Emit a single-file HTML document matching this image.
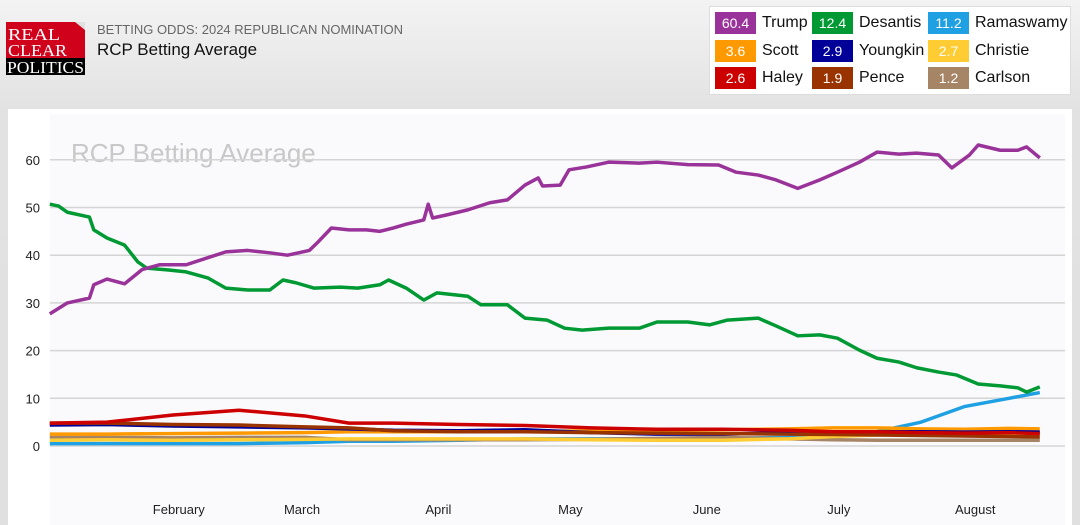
<!DOCTYPE html>
<html><head><meta charset="utf-8">
<style>
body{margin:0;width:1080px;height:525px;overflow:hidden;background:linear-gradient(#f3f3f3,#e2e2e2 110px,#e0e0e0);font-family:"Liberation Sans",sans-serif;position:relative}
.logo{position:absolute;left:6px;top:22px;width:79px;height:53px}
.sub{position:absolute;left:97px;top:22px;font-size:13px;color:#666}
.ttl{position:absolute;left:97px;top:40px;font-size:17px;color:#111}
.legend{position:absolute;left:709px;top:6px;width:362px;height:89px;background:#fff;border:1px solid #ddd;box-sizing:border-box}
.li{position:absolute;height:22px;font-size:16px;color:#111;line-height:22px}
.li span.b{display:inline-block;width:41px;height:22px;color:#fff;text-align:center;font-size:14px;margin-right:6px;vertical-align:top}
.panel{position:absolute;left:8px;top:109px;width:1064px;height:416px;background:#fff}
</style></head><body>
<svg class="logo" viewBox="0 0 79 53">
<rect x="0" y="0" width="79" height="53" fill="#d0021b"/><polygon points="69,0 79,0 79,8" fill="#e0e0e0"/><rect x="0" y="36" width="79" height="17" fill="#000"/>
<text x="2" y="18" font-family="Liberation Serif" font-size="17" fill="#fff" textLength="52" lengthAdjust="spacingAndGlyphs">REAL</text>
<text x="2" y="34" font-family="Liberation Serif" font-size="17" fill="#fff" textLength="59" lengthAdjust="spacingAndGlyphs">CLEAR</text>
<text x="1" y="51" font-family="Liberation Serif" font-size="17" fill="#fff" textLength="77" lengthAdjust="spacingAndGlyphs">POLITICS</text></svg>
<div class="sub">BETTING ODDS: 2024 REPUBLICAN NOMINATION</div>
<div class="ttl">RCP Betting Average</div>
<div class="legend">
<div class="li" style="left:5px;top:5px"><span class="b" style="background:#993399">60.4</span>Trump</div>
<div class="li" style="left:102px;top:5px"><span class="b" style="background:#009933">12.4</span>Desantis</div>
<div class="li" style="left:218px;top:5px"><span class="b" style="background:#1fa0e3">11.2</span>Ramaswamy</div>
<div class="li" style="left:5px;top:33px"><span class="b" style="background:#ff9900">3.6</span>Scott</div>
<div class="li" style="left:102px;top:33px"><span class="b" style="background:#000099">2.9</span>Youngkin</div>
<div class="li" style="left:218px;top:33px"><span class="b" style="background:#ffcc33">2.7</span>Christie</div>
<div class="li" style="left:5px;top:60px"><span class="b" style="background:#cc0000">2.6</span>Haley</div>
<div class="li" style="left:102px;top:60px"><span class="b" style="background:#993300">1.9</span>Pence</div>
<div class="li" style="left:218px;top:60px"><span class="b" style="background:#a68566">1.2</span>Carlson</div>
</div>
<div class="panel"></div>
<svg id="chart" width="1080" height="525" style="position:absolute;left:0;top:0"></svg>
<script>
const yTicks=[0,10,20,30,40,50,60];
const monthLabels=["February","March","April","May","June","July","August"];
const monthDays=[32,60,91,121,152,182,213];
const trumpDays=[2,6,11,12,15,19,23,27,33,38,42,47,52,56,61,63,66,70,74,77,80,83,87,88,89,92,97,102,106,110,113,114,118,120,124,129,136,140,147,154,158,163,167,172,177,181,186,190,195,199,204,207,211,213,218,222,224,227];
const trumpVals=[27.7,30,31,33.8,35,34,37,38,38,39.5,40.7,41,40.5,40,41,42.8,45.7,45.3,45.3,45,45.7,46.5,47.4,50.7,47.8,48.4,49.5,51,51.6,54.7,56.2,54.5,54.7,57.9,58.5,59.5,59.3,59.5,59,58.9,57.4,56.8,55.8,54,55.8,57.4,59.5,61.6,61.2,61.4,61,58.3,61,63.1,62,62,62.7,60.4];
const desantisDays=[2,4,6,11,12,15,19,22,24,29,33,38,42,47,52,55,58,62,68,72,77,79,83,87,90,97,100,106,110,115,119,123,129,136,140,147,152,156,163,167,172,177,181,186,190,195,199,204,208,213,218,222,224,227];
const desantisVals=[50.7,50.3,49,48,45.3,43.6,42.1,38.6,37.3,36.9,36.5,35.2,33.1,32.7,32.7,34.8,34.2,33.1,33.3,33.1,33.8,34.8,33.1,30.6,32.1,31.4,29.6,29.6,26.8,26.4,24.7,24.3,24.7,24.7,26,26,25.4,26.4,26.8,25.2,23.1,23.3,22.6,20.1,18.4,17.6,16.4,15.5,14.9,13,12.6,12.2,11.3,12.4];
const minorDays=[2,15,30,45,60,70,80,95,110,125,140,155,170,180,190,200,210,220,227];
const ramaswamyVals=[0.5,0.5,0.5,0.5,0.7,1,1,1.2,1.5,1.5,1.5,1.6,1.8,2.2,3,5,8.3,10,11.2];
const carlsonVals=[1.8,1.8,1.7,1.8,1.8,1.3,1.3,1.3,1.3,1.4,1.6,1.8,1.5,1.3,1.2,1.2,1.2,1.2,1.2];
const christieVals=[1.2,1.3,1.2,1.3,1.4,1.5,1.5,1.5,1.5,1.3,1.2,1.2,1.5,2,2.3,2.5,2.6,2.6,2.7];
const scottVals=[2.5,2.5,2.6,2.7,2.8,3,3,3,3,3.2,3.3,3.4,3.6,3.8,3.8,3.6,3.5,3.7,3.6];
const penceVals=[4.8,4.8,4.5,4.4,4,3.8,3.2,3,3,2.8,2.7,2.6,2.5,2.4,2.3,2.2,2.1,2,1.9];
const youngkinVals=[4.4,4.5,4.2,4,3.8,3.6,3.3,3.2,3.4,2.8,2.5,2.5,2.8,3,3,3,2.9,3,2.9];
const haleyVals=[4.8,5,6.5,7.5,6.3,4.8,4.8,4.5,4.3,3.8,3.5,3.5,3.3,3,3,2.8,2.7,2.8,2.6];

const NS="http://www.w3.org/2000/svg";
const svg=document.getElementById('chart');
const X0=50,X1=1065,Y0=114,Y1=525;
const xs=d=>41+d*4.4;
const ys=v=>446-v*4.77;
function mk(tag,attrs,parent){const e=document.createElementNS(NS,tag);for(const k in attrs)e.setAttribute(k,attrs[k]);(parent||svg).appendChild(e);return e;}
const bg=mk('rect',{x:X0,y:Y0,width:X1-X0,height:Y1-Y0,fill:'#fafafd'});


const wm=mk('text',{x:71,y:162,'font-size':26,fill:'#c8c8c8','font-family':'Liberation Sans'});
wm.textContent='RCP Betting Average';


yTicks.forEach(t=>{
  const g=mk('line',{x1:X0,x2:X1,y1:ys(t),y2:ys(t),stroke:'#d4d4d4','stroke-width':1.5});
  
  
  const l=mk('text',{x:40,y:ys(t)+5,'text-anchor':'end','font-size':13,fill:'#222'});
  l.textContent=t;
  
  
});
monthLabels.forEach((m,i)=>{
  const l=mk('text',{x:xs(monthDays[i])-3,y:514,'text-anchor':'middle','font-size':13,fill:'#222'});
  l.textContent=m;
  
  
});
function line(days,vals,color,name){
  const p=mk('polyline',{points:days.map((d,i)=>xs(d)+','+ys(vals[i])).join(' '),fill:'none',stroke:color,'stroke-width':3.5,'stroke-linejoin':'round'});
  
  
}
line(minorDays,ramaswamyVals,'#1fa0e3','ramaswamy');
line(minorDays,carlsonVals,'#a68566','carlson');
line(minorDays,christieVals,'#ffcc33','christie');
line(minorDays,scottVals,'#ff9900','scott');
line(minorDays,youngkinVals,'#000099','youngkin');
line(minorDays,penceVals,'#993300','pence');
line(minorDays,haleyVals,'#cc0000','haley');
line(desantisDays,desantisVals,'#009933','desantis');
line(trumpDays,trumpVals,'#993399','trump');
</script>
</body></html>
